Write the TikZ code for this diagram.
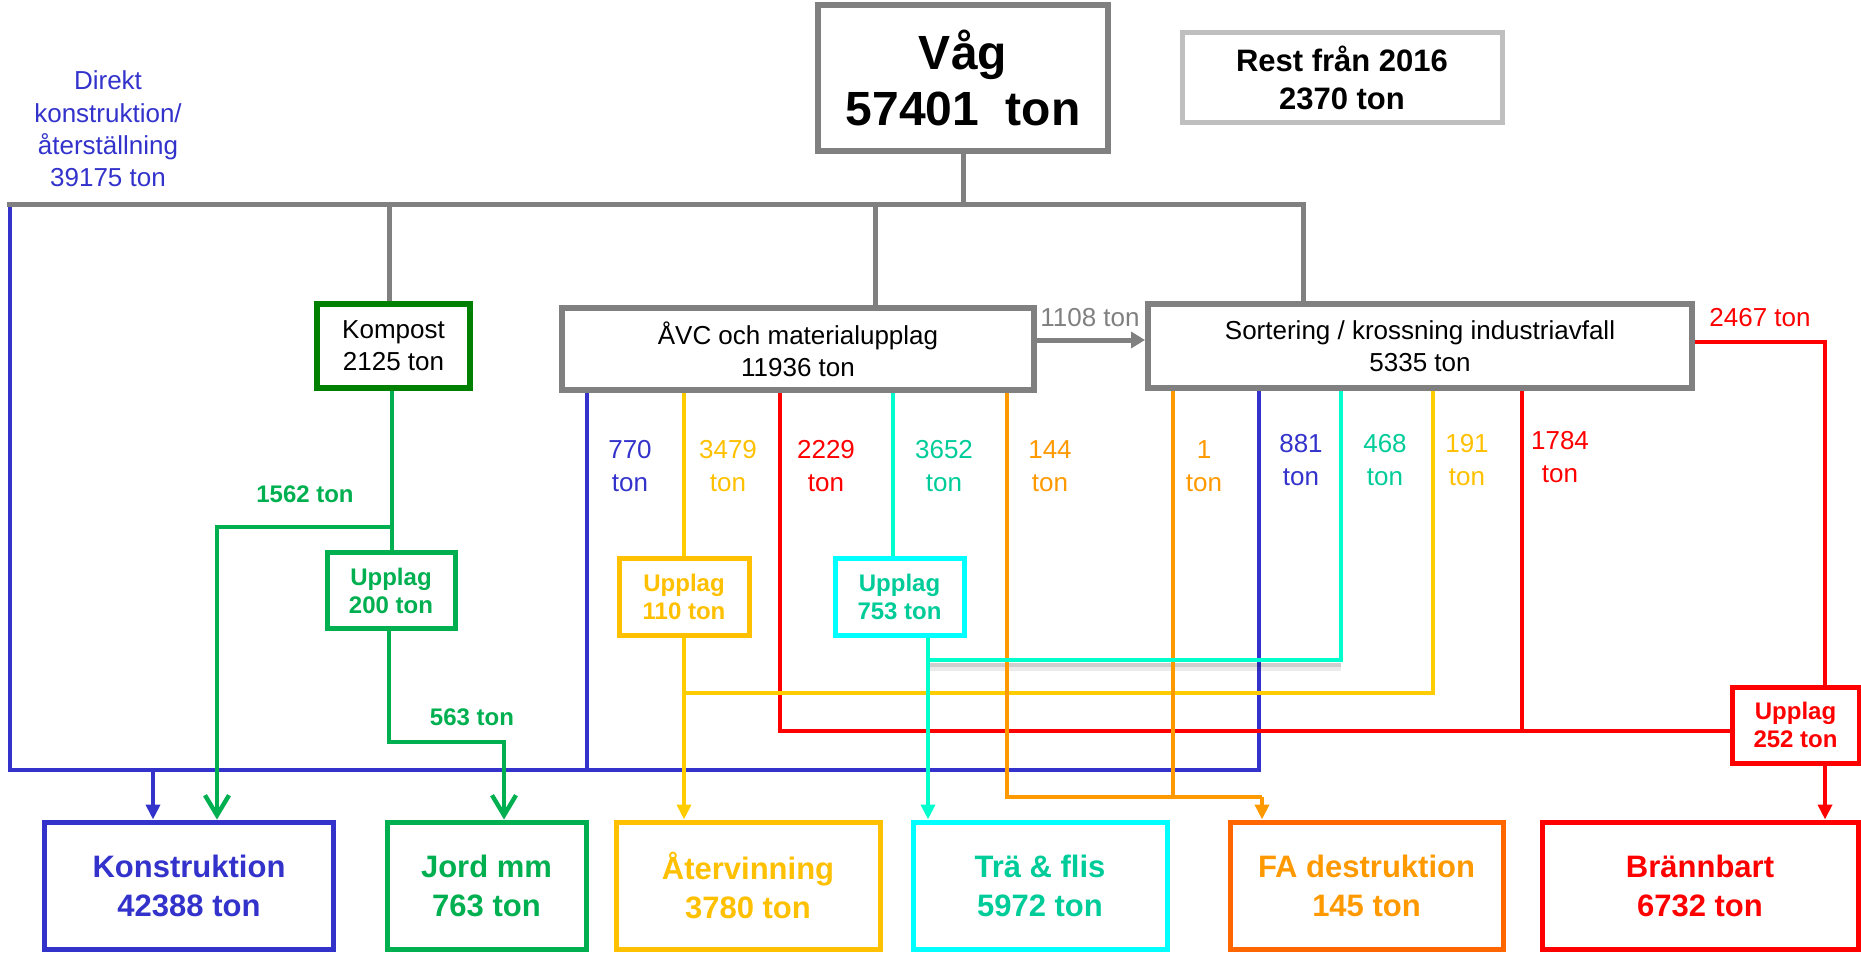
\documentclass[tikz,border=0pt]{standalone}
\usepackage{fontspec}
\setmainfont{Liberation Sans}
\usetikzlibrary{arrows.meta}
\definecolor{cgrey}{HTML}{808080}
\definecolor{crest}{HTML}{BFBFBF}
\definecolor{cblue}{HTML}{3333CC}
\definecolor{cgreen}{HTML}{00B050}
\definecolor{cdkgreen}{HTML}{008000}
\definecolor{cyel}{HTML}{FFC000}
\definecolor{cyelline}{HTML}{FFCC00}
\definecolor{cturq}{HTML}{00FFCC}
\definecolor{ccyan}{HTML}{00FFFF}
\definecolor{cteal}{HTML}{00CC99}
\definecolor{corange}{HTML}{FF9900}
\definecolor{cfab}{HTML}{FF6600}
\definecolor{cred}{HTML}{FF0000}
\begin{document}
\begin{tikzpicture}[x=0.5pt,y=-0.5pt,
  gbox/.style={draw=cgrey, line width=3pt, fill=white, inner sep=0pt, align=center, font=\fontsize{13}{16}\selectfont},
  ubox/.style={line width=2.5pt, fill=white, inner sep=0pt, align=center, font=\bfseries\fontsize{12}{14}\selectfont},
  bbox/.style={line width=2.5pt, fill=white, inner sep=0pt, align=center, minimum height=63.5pt, font=\bfseries\fontsize{15.5}{19.5}\selectfont},
  lbl/.style={align=center, inner sep=0pt, font=\fontsize{13}{16.5}\selectfont},
  blbl/.style={align=center, inner sep=0pt, font=\bfseries\fontsize{12}{14}\selectfont},
  ln/.style={line width=2.2pt},
  grln/.style={line width=2.5pt, draw=cgrey},
  tip/.style={-{Triangle[width=7pt,length=7.5pt]}},
  gtip/.style={-{Straight Barb[width=12pt,length=10pt]}}
]
\useasboundingbox (0,0) rectangle (1861,952);

% ---------- boxes ----------
\node[gbox, line width=3pt, minimum width=145pt, minimum height=73pt, font=\bfseries\fontsize{24}{28}\selectfont] (vag) at (963,78) {Våg\\57401\ \ ton};
\node[gbox, draw=crest, line width=2.5pt, minimum width=160pt, minimum height=45pt, font=\bfseries\fontsize{15.5}{19}\selectfont] (rest) at (1342,78) {Rest från 2016\\2370 ton};
\node[gbox, draw=cdkgreen, minimum width=76.5pt, minimum height=42pt] (kompost) at (393.5,346) {Kompost\\2125 ton};
\node[gbox, minimum width=236pt, minimum height=41pt] (avc) at (798,349) {ÅVC och materialupplag\\11936 ton};
\node[gbox, minimum width=272pt, minimum height=42pt] (sort) at (1420,346) {Sortering / krossning industriavfall\\5335 ton};

\node[ubox, draw=cgreen, text=cgreen, minimum width=64pt, minimum height=38pt] (up200) at (391,590.5) {Upplag\\200 ton};
\node[ubox, draw=cyel, text=cyel, minimum width=65pt, minimum height=38.5pt] (up110) at (684,596.5) {Upplag\\110 ton};
\node[ubox, draw=ccyan, text=cteal, minimum width=64.5pt, minimum height=38.5pt] (up753) at (899.5,596.5) {Upplag\\753 ton};
\node[ubox, draw=cred, text=cred, minimum width=63.5pt, minimum height=38pt] (up252) at (1795.5,725) {Upplag\\252 ton};

\node[bbox, draw=cblue, text=cblue, minimum width=144.5pt] (kon) at (189,885.5) {Konstruktion\\42388 ton};
\node[bbox, draw=cgreen, text=cgreen, minimum width=99.5pt] (jord) at (486.5,885.5) {Jord mm\\763 ton};
\node[bbox, draw=cyel, text=cyel, minimum width=132pt] (ater) at (748,885.5) {Återvinning\\3780 ton};
\node[bbox, draw=ccyan, text=cteal, minimum width=127pt] (tra) at (1040,885.5) {Trä \& flis\\5972 ton};
\node[bbox, draw=cfab, text=corange, minimum width=136.5pt] (fa) at (1366.5,885.5) {FA destruktion\\145 ton};
\node[bbox, draw=cred, text=cred, minimum width=158pt] (bran) at (1700,885.5) {Brännbart\\6732 ton};

% ---------- routing coordinates ----------
\coordinate (gL) at (7,205);
\coordinate (gR) at (1303,205);
\coordinate (gK) at (389,205);
\coordinate (gA) at (875,205);
\coordinate (aY) at (0,340);
\coordinate (bTop) at (10,207);
\coordinate (bL) at (10,770);
\coordinate (bR) at (1259,770);
\coordinate (b1) at (587,770);
\coordinate (bA) at (153,770);
\coordinate (yR) at (1433,693);
\coordinate (r1) at (780,731);
\coordinate (r2) at (1522,731);
\coordinate (r3) at (1825,342);
\coordinate (c1) at (893,560);
\coordinate (c2) at (928,660);
\coordinate (c3) at (1341,660);
\coordinate (o1) at (1007,797);
\coordinate (o2) at (1173,797);
\coordinate (o3) at (1262,797);
\coordinate (g1) at (392,527);
\coordinate (g2) at (217,527);
\coordinate (g3) at (389,742);
\coordinate (g4) at (504,742);

% ---------- blue ----------
\draw[ln, cblue] (bTop) -- (bL) -- (bR) -- (sort.south -| bR);
\draw[ln, cblue] (avc.south -| b1) -- (b1);
\draw[ln, cblue, tip] (bA) -- (kon.north -| bA);

% ---------- shadow of turquoise bus ----------
\draw[line width=4pt, black, opacity=0.08] ([yshift=-3.5pt]c2) -- ([yshift=-3.5pt]c3);
\draw[line width=2pt, black, opacity=0.12] ([yshift=-2.5pt]c2) -- ([yshift=-2.5pt]c3);

% ---------- red ----------
\draw[ln, cred] (avc.south -| r1) -- (r1) -- (r1 -| up252.west);
\draw[ln, cred] (sort.south -| r2) -- (r2);
\draw[ln, cred] (sort.east |- r3) -- (r3) -- (up252.north -| r3);
\draw[ln, cred, tip] (up252.south -| r3) -- (bran.north -| r3);

% ---------- yellow ----------
\draw[ln, cyelline] (avc.south -| up110.north) -- (up110.north);
\draw[ln, cyelline] (sort.south -| yR) -- (yR) -- (yR -| up110.south);
\draw[ln, cyelline, tip] (up110.south) -- (ater.north -| up110.south);

% ---------- orange ----------
\draw[ln, corange] (avc.south -| o1) -- (o1) -- (o3);
\draw[ln, corange] (sort.south -| o2) -- (o2);
\draw[ln, corange, tip] (o3) -- (fa.north -| o3);

% ---------- turquoise ----------
\draw[ln, cturq] (avc.south -| c1) -- (up753.north -| c1);
\draw[ln, cturq] (sort.south -| c3) -- (c3) -- (c2);
\draw[ln, cturq, tip] (up753.south -| c2) -- (tra.north -| c2);

% ---------- green ----------
\draw[ln, cgreen] (kompost.south -| g1) -- (up200.north -| g1);
\draw[ln, cgreen, gtip] (g1) -- (g2) -- (kon.north -| g2);
\draw[ln, cgreen, gtip] (up200.south -| g3) -- (g3) -- (g4) -- (jord.north -| g4);

% ---------- grey ----------
\draw[grln] (vag.south) -- (vag.south |- gL);
\draw[grln] (gL) -- (gR) -- (sort.north -| gR);
\draw[grln] (gK) -- (kompost.north -| gK);
\draw[grln] (gA) -- (avc.north -| gA);
\draw[grln, -{Triangle[width=8pt,length=7pt]}] (avc.east |- aY) -- (sort.west |- aY);

% ---------- labels ----------
\node[lbl, text=cblue, font=\fontsize{13}{16.2}\selectfont] (ldir) at (108,129) {Direkt\\konstruktion/\\återställning\\39175 ton};
\node[lbl, text=cgrey] (l1108) at (1090,318) {1108 ton};
\node[lbl, text=cred] (l2467) at (1760,318) {2467 ton};
\node[lbl, text=cblue] (l770) at (630,466) {770\\ton};
\node[lbl, text=cyel] (l3479) at (728,466) {3479\\ton};
\node[lbl, text=cred] (l2229) at (826,466) {2229\\ton};
\node[lbl, text=cteal] (l3652) at (944,466) {3652\\ton};
\node[lbl, text=corange] (l144) at (1050,466) {144\\ton};
\node[lbl, text=corange] (l1) at (1204,466) {1\\ton};
\node[lbl, text=cblue] (l881) at (1301,460) {881\\ton};
\node[lbl, text=cteal] (l468) at (1385,460) {468\\ton};
\node[lbl, text=cyel] (l191) at (1467,460) {191\\ton};
\node[lbl, text=cred] (l1784) at (1560,457) {1784\\ton};
\node[blbl, text=cgreen] (l1562) at (305,494) {1562 ton};
\node[blbl, text=cgreen] (l563) at (472,717) {563 ton};
\end{tikzpicture}
\end{document}
